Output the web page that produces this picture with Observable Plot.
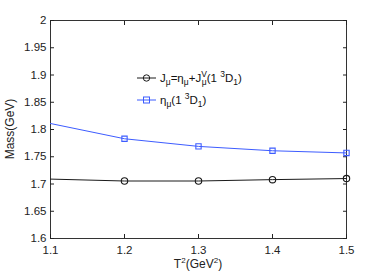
<!DOCTYPE html>
<html><head><meta charset="utf-8">
<script src="https://cdn.jsdelivr.net/npm/d3@7"></script>
<script src="https://cdn.jsdelivr.net/npm/@observablehq/plot@0.6"></script>
<style>
body{margin:0;background:#fff;}
#wrap{position:relative;width:382px;height:273px;font-family:"Liberation Sans",Arial,sans-serif;}
</style>
</head><body><div id="wrap"></div>
<script>
const T2 = [1.1, 1.2, 1.3, 1.4, 1.5];
const massJ = [1.709, 1.7055, 1.7055, 1.708, 1.710];
const massEta = [1.811, 1.783, 1.769, 1.761, 1.757];
const xTicks = [1.1, 1.2, 1.3, 1.4, 1.5];
const yTicks = [1.6, 1.65, 1.7, 1.75, 1.8, 1.85, 1.9, 1.95, 2];
const yTickLabels = ["1.6", "1.65", "1.7", "1.75", "1.8", "1.85", "1.9", "1.95", "2"];

const dJ = T2.map((t, i) => ({t, m: massJ[i]}));
const dE = T2.map((t, i) => ({t, m: massEta[i]}));
// markers are shown only inside the frame (not on the left edge), as in the reference
const onMarker = (d, i) => i > 0;
const blue = "#3d5cff";
const black = "#1a1a1a";

const plot = Plot.plot({
  width: 382, height: 273,
  marginLeft: 50, marginRight: 36, marginTop: 20, marginBottom: 35,
  style: {fontFamily: "Liberation Sans, Arial, sans-serif", fontSize: "11.5px", color: "#222", background: "#fff"},
  x: {domain: [1.1, 1.5]},
  y: {domain: [1.6, 2]},
  marks: [
    Plot.frame({stroke: "#333", strokeWidth: 1}),
    Plot.axisX({ticks: xTicks, tickSize: -4, tickPadding: 11, tickFormat: d => String(d), label: null, fontSize: "11.5px"}),
    Plot.axisX({ticks: xTicks, anchor: "top", tickSize: -4, tickFormat: () => "", label: null}),
    Plot.axisY({ticks: yTicks, tickSize: -4, tickPadding: 8, tickFormat: (d, i) => yTickLabels[i], label: null, fontSize: "11.5px"}),
    Plot.axisY({ticks: yTicks, anchor: "right", tickSize: -4, tickFormat: () => "", label: null}),
    Plot.line(dJ, {x: "t", y: "m", stroke: black, strokeWidth: 1}),
    Plot.dot(dJ.filter(onMarker), {x: "t", y: "m", stroke: black, r: 3.2, strokeWidth: 1.1}),
    Plot.line(dE, {x: "t", y: "m", stroke: blue, strokeWidth: 1}),
    Plot.dot(dE.filter(onMarker), {x: "t", y: "m", stroke: blue, symbol: "square", r: 3.0, strokeWidth: 1.1})
  ]
});
document.getElementById("wrap").appendChild(plot);

const svg = d3.select(plot);
// axis labels
svg.append("text").attr("transform", "translate(14,129) rotate(-90)")
  .attr("text-anchor", "middle").attr("font-size", 12).attr("fill", "#222")
  .text("Mass(GeV)");
const xl = svg.append("text").attr("x", 198).attr("y", 268)
  .attr("text-anchor", "middle").attr("font-size", 12).attr("fill", "#222");
xl.append("tspan").text("T");
xl.append("tspan").attr("dy", -5).attr("font-size", 8).text("2");
xl.append("tspan").attr("dy", 5).text("(GeV");
xl.append("tspan").attr("dy", -5).attr("font-size", 8).text("2");
xl.append("tspan").attr("dy", 5).text(")");

// legend
const lg = svg.append("g").attr("font-size", 11.5).attr("fill", "#111").attr("text-anchor", "start");
lg.append("line").attr("x1", 137).attr("x2", 156).attr("y1", 78).attr("y2", 78).attr("stroke", black);
lg.append("circle").attr("cx", 146.5).attr("cy", 78).attr("r", 3.2).attr("fill", "none").attr("stroke", black);
const t1 = lg.append("text").attr("x", 160).attr("y", 82);
t1.append("tspan").text("J");
t1.append("tspan").attr("dy", 3).attr("font-size", 8.5).text("μ");
t1.append("tspan").attr("dy", -3).text("=η");
t1.append("tspan").attr("dy", 3).attr("font-size", 8.5).text("μ");
t1.append("tspan").attr("dy", -3).text("+J");
t1.append("tspan").attr("dy", -5).attr("font-size", 8.5).text("V");
t1.append("tspan").attr("dy", 8).attr("dx", -5).attr("font-size", 8.5).text("μ");
t1.append("tspan").attr("dy", -3).text("(1 ");
t1.append("tspan").attr("dy", -5).attr("font-size", 8.5).text("3");
t1.append("tspan").attr("dy", 5).text("D");
t1.append("tspan").attr("dy", 3).attr("font-size", 8.5).text("1");
t1.append("tspan").attr("dy", -3).text(")");

lg.append("line").attr("x1", 137).attr("x2", 156).attr("y1", 100).attr("y2", 100).attr("stroke", blue);
lg.append("rect").attr("x", 143.5).attr("y", 97).attr("width", 6).attr("height", 6).attr("fill", "none").attr("stroke", blue);
const t2 = lg.append("text").attr("x", 160).attr("y", 104);
t2.append("tspan").text("η");
t2.append("tspan").attr("dy", 3).attr("font-size", 8.5).text("μ");
t2.append("tspan").attr("dy", -3).text("(1 ");
t2.append("tspan").attr("dy", -5).attr("font-size", 8.5).text("3");
t2.append("tspan").attr("dy", 5).text("D");
t2.append("tspan").attr("dy", 3).attr("font-size", 8.5).text("1");
t2.append("tspan").attr("dy", -3).text(")");
</script>
</body></html>
